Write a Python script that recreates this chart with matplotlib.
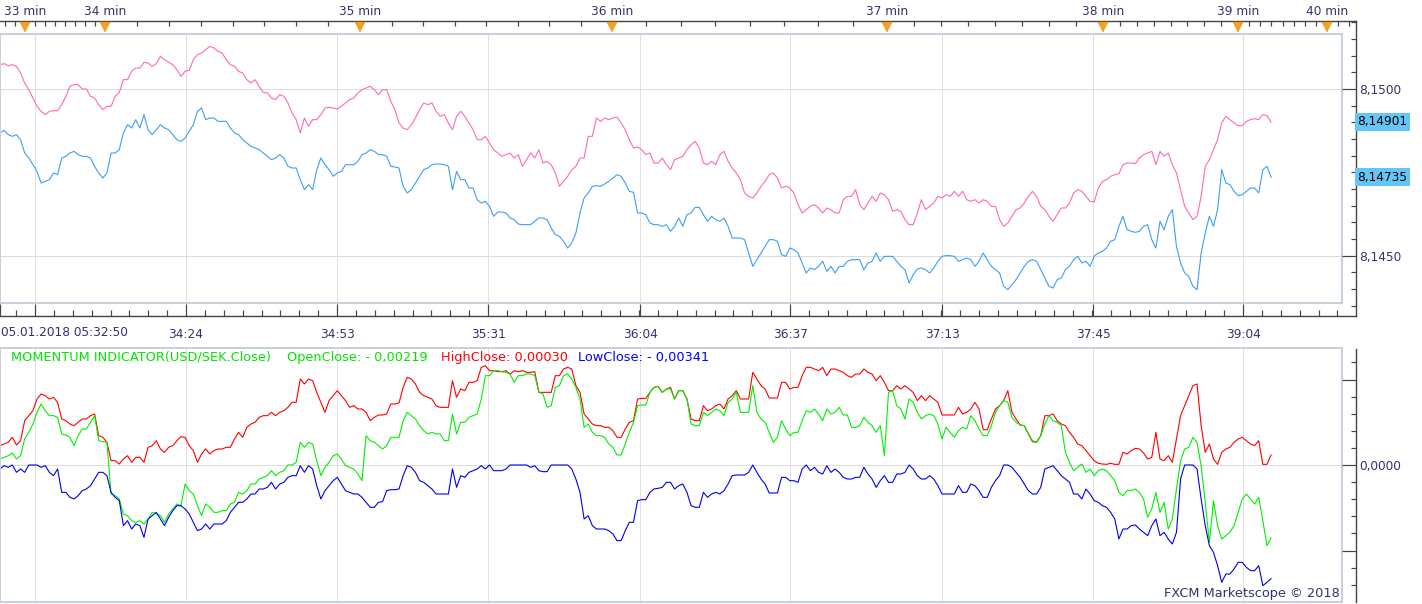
# %%
import numpy as np
import matplotlib

matplotlib.use("Agg")
import matplotlib.pyplot as plt
from matplotlib.patches import Rectangle
from matplotlib.transforms import blended_transform_factory

# %% Data (USD/SEK ticks 05.01.2018)
ask = [
    8.15073, 8.15076, 8.15070, 8.15073, 8.15068, 8.15048, 8.15018, 8.14998, 8.14973, 8.14948,
    8.14933, 8.14923, 8.14933, 8.14935, 8.14935, 8.14953, 8.14978, 8.15008, 8.15013, 8.15013,
    8.15000, 8.15000, 8.14978, 8.14973, 8.14953, 8.14938, 8.14948, 8.14948, 8.14978, 8.14990,
    8.15028, 8.15028, 8.15053, 8.15063, 8.15063, 8.15080, 8.15078, 8.15068, 8.15076, 8.15098,
    8.15088, 8.15080, 8.15073, 8.15058, 8.15038, 8.15053, 8.15056, 8.15088, 8.15103, 8.15108,
    8.15118, 8.15128, 8.15123, 8.15113, 8.15108, 8.15088, 8.15073, 8.15068, 8.15053, 8.15048,
    8.15028, 8.15018, 8.15028, 8.15008, 8.14990, 8.14988, 8.14973, 8.14968, 8.14983, 8.14978,
    8.14958, 8.14928, 8.14908, 8.14868, 8.14913, 8.14888, 8.14908, 8.14908, 8.14923, 8.14943,
    8.14945, 8.14943, 8.14940, 8.14948, 8.14958, 8.14968, 8.14973, 8.14988, 8.14998, 8.15003,
    8.15008, 8.14998, 8.14983, 8.14998, 8.14998, 8.14963, 8.14938, 8.14898, 8.14883, 8.14878,
    8.14893, 8.14913, 8.14938, 8.14958, 8.14953, 8.14958, 8.14933, 8.14918, 8.14923, 8.14898,
    8.14878, 8.14918, 8.14933, 8.14918, 8.14898, 8.14878, 8.14848, 8.14848, 8.14858, 8.14838,
    8.14818, 8.14808, 8.14798, 8.14803, 8.14808, 8.14793, 8.14803, 8.14768, 8.14788, 8.14808,
    8.14793, 8.14818, 8.14778, 8.14783, 8.14773, 8.14748, 8.14708, 8.14723, 8.14738, 8.14758,
    8.14768, 8.14793, 8.14793, 8.14858, 8.14858, 8.14913, 8.14903, 8.14913, 8.14908, 8.14913,
    8.14916, 8.14898, 8.14878, 8.14848, 8.14823, 8.14826, 8.14818, 8.14803, 8.14808, 8.14778,
    8.14778, 8.14793, 8.14773, 8.14758, 8.14788, 8.14793, 8.14798, 8.14818, 8.14833, 8.14843,
    8.14823, 8.14778, 8.14773, 8.14783, 8.14773, 8.14803, 8.14813, 8.14783, 8.14763, 8.14748,
    8.14728, 8.14688, 8.14678, 8.14673, 8.14688, 8.14708, 8.14723, 8.14743, 8.14748, 8.14733,
    8.14703, 8.14708, 8.14703, 8.14688, 8.14653, 8.14628, 8.14638, 8.14648, 8.14653, 8.14643,
    8.14628, 8.14643, 8.14638, 8.14628, 8.14628, 8.14668, 8.14678, 8.14678, 8.14698, 8.14653,
    8.14638, 8.14658, 8.14678, 8.14663, 8.14688, 8.14683, 8.14668, 8.14633, 8.14638, 8.14633,
    8.14608, 8.14593, 8.14593, 8.14628, 8.14668, 8.14638, 8.14648, 8.14658, 8.14678, 8.14673,
    8.14683, 8.14678, 8.14693, 8.14678, 8.14693, 8.14668, 8.14663, 8.14668, 8.14658, 8.14668,
    8.14663, 8.14648, 8.14648, 8.14608, 8.14588, 8.14598, 8.14618, 8.14638, 8.14643, 8.14658,
    8.14678, 8.14693, 8.14678, 8.14648, 8.14638, 8.14618, 8.14603, 8.14623, 8.14643, 8.14643,
    8.14658, 8.14688, 8.14698, 8.14693, 8.14678, 8.14663, 8.14661, 8.14703, 8.14723, 8.14728,
    8.14738, 8.14743, 8.14746, 8.14773, 8.14778, 8.14778, 8.14776, 8.14793, 8.14803, 8.14808,
    8.14813, 8.14773, 8.14813, 8.14798, 8.14808, 8.14773, 8.14748, 8.14698, 8.14648, 8.14628,
    8.14608, 8.14618, 8.14678, 8.14768, 8.14788, 8.14818, 8.14848, 8.14898, 8.14918, 8.14908,
    8.14898, 8.14890, 8.14890, 8.14903, 8.14908, 8.14911, 8.14908, 8.14923, 8.14920, 8.14901,
]

bid = [
    8.14868, 8.14876, 8.14863, 8.14858, 8.14863, 8.14848, 8.14808, 8.14793, 8.14773, 8.14753,
    8.14718, 8.14723, 8.14728, 8.14748, 8.14743, 8.14793, 8.14798, 8.14808, 8.14813, 8.14803,
    8.14798, 8.14798, 8.14793, 8.14768, 8.14748, 8.14733, 8.14748, 8.14808, 8.14808, 8.14818,
    8.14868, 8.14893, 8.14883, 8.14908, 8.14883, 8.14923, 8.14878, 8.14863, 8.14878, 8.14893,
    8.14883, 8.14878, 8.14863, 8.14848, 8.14843, 8.14853, 8.14873, 8.14893, 8.14933, 8.14943,
    8.14908, 8.14913, 8.14913, 8.14903, 8.14903, 8.14903, 8.14883, 8.14868, 8.14863, 8.14848,
    8.14838, 8.14828, 8.14823, 8.14818, 8.14808, 8.14798, 8.14788, 8.14793, 8.14803, 8.14793,
    8.14768, 8.14763, 8.14763, 8.14728, 8.14698, 8.14713, 8.14698, 8.14758, 8.14793, 8.14773,
    8.14758, 8.14738, 8.14748, 8.14753, 8.14773, 8.14773, 8.14773, 8.14783, 8.14803, 8.14808,
    8.14818, 8.14813, 8.14803, 8.14803, 8.14798, 8.14768, 8.14766, 8.14763, 8.14708, 8.14688,
    8.14698, 8.14718, 8.14738, 8.14758, 8.14763, 8.14773, 8.14775, 8.14775, 8.14773, 8.14768,
    8.14698, 8.14753, 8.14728, 8.14728, 8.14703, 8.14703, 8.14668, 8.14658, 8.14663, 8.14648,
    8.14618, 8.14631, 8.14631, 8.14628, 8.14613, 8.14608, 8.14595, 8.14593, 8.14593, 8.14593,
    8.14603, 8.14613, 8.14613, 8.14608, 8.14583, 8.14563, 8.14558, 8.14543, 8.14523, 8.14538,
    8.14568, 8.14628, 8.14673, 8.14688, 8.14708, 8.14710, 8.14708, 8.14715, 8.14723, 8.14733,
    8.14743, 8.14738, 8.14718, 8.14693, 8.14690, 8.14628, 8.14628, 8.14623, 8.14598, 8.14593,
    8.14593, 8.14588, 8.14593, 8.14573, 8.14588, 8.14613, 8.14588, 8.14623, 8.14628, 8.14645,
    8.14645, 8.14623, 8.14603, 8.14618, 8.14608, 8.14603, 8.14613, 8.14588, 8.14553, 8.14553,
    8.14553, 8.14548, 8.14508, 8.14468, 8.14488, 8.14508, 8.14528, 8.14548, 8.14548, 8.14543,
    8.14503, 8.14498, 8.14523, 8.14518, 8.14508, 8.14478, 8.14448, 8.14463, 8.14458, 8.14468,
    8.14483, 8.14453, 8.14468, 8.14448, 8.14468, 8.14468, 8.14483, 8.14488, 8.14488, 8.14488,
    8.14458, 8.14478, 8.14483, 8.14508, 8.14483, 8.14498, 8.14498, 8.14498, 8.14483, 8.14468,
    8.14458, 8.14418, 8.14443, 8.14460, 8.14463, 8.14458, 8.14448, 8.14463, 8.14483, 8.14498,
    8.14500, 8.14500, 8.14498, 8.14483, 8.14488, 8.14493, 8.14488, 8.14468, 8.14483, 8.14508,
    8.14488, 8.14468, 8.14458, 8.14448, 8.14408, 8.14398, 8.14413, 8.14428, 8.14448, 8.14468,
    8.14483, 8.14488, 8.14483, 8.14458, 8.14433, 8.14408, 8.14403, 8.14428, 8.14433, 8.14458,
    8.14468, 8.14488, 8.14498, 8.14478, 8.14483, 8.14468, 8.14498, 8.14508, 8.14513, 8.14523,
    8.14543, 8.14548, 8.14588, 8.14618, 8.14578, 8.14573, 8.14570, 8.14573, 8.14588, 8.14593,
    8.14548, 8.14523, 8.14603, 8.14578, 8.14618, 8.14638, 8.14528, 8.14478, 8.14448, 8.14438,
    8.14408, 8.14398, 8.14508, 8.14568, 8.14618, 8.14588, 8.14638, 8.14758, 8.14718, 8.14713,
    8.14693, 8.14680, 8.14683, 8.14693, 8.14703, 8.14703, 8.14688, 8.14758, 8.14768, 8.14735,
]

high_close = [
    0.00058, 0.00063, 0.00068, 0.00083, 0.00060, 0.00073, 0.00133, 0.00148, 0.00163, 0.00198,
    0.00213, 0.00208, 0.00198, 0.00203, 0.00188, 0.00138, 0.00133, 0.00123, 0.00118, 0.00128,
    0.00138, 0.00138, 0.00148, 0.00153, 0.00088, 0.00083, 0.00068, 0.00013, 0.00013, 0.00003,
    0.00018, 0.00028, 0.00008, 0.00023, 0.00023, 0.00008, 0.00053, 0.00058, 0.00073, 0.00048,
    0.00038, 0.00053, 0.00058, 0.00073, 0.00085, 0.00083, 0.00058, 0.00043, 0.00008, 0.00033,
    0.00048, 0.00033, 0.00043, 0.00048, 0.00048, 0.00053, 0.00053, 0.00078, 0.00098, 0.00083,
    0.00113, 0.00123, 0.00128, 0.00143, 0.00148, 0.00148, 0.00158, 0.00148, 0.00158, 0.00163,
    0.00173, 0.00188, 0.00188, 0.00258, 0.00243, 0.00258, 0.00253, 0.00218, 0.00188, 0.00158,
    0.00193, 0.00208, 0.00223, 0.00208, 0.00193, 0.00173, 0.00178, 0.00168, 0.00168, 0.00158,
    0.00133, 0.00143, 0.00150, 0.00150, 0.00153, 0.00183, 0.00183, 0.00186, 0.00233, 0.00263,
    0.00258, 0.00243, 0.00218, 0.00208, 0.00203, 0.00198, 0.00178, 0.00173, 0.00173, 0.00173,
    0.00253, 0.00203, 0.00228, 0.00223, 0.00248, 0.00248, 0.00253, 0.00293, 0.00298, 0.00283,
    0.00283, 0.00280, 0.00280, 0.00283, 0.00273, 0.00283, 0.00280, 0.00283, 0.00278, 0.00278,
    0.00280, 0.00218, 0.00218, 0.00218, 0.00218, 0.00268, 0.00268, 0.00288, 0.00293, 0.00288,
    0.00238, 0.00218, 0.00153, 0.00138, 0.00123, 0.00118, 0.00118, 0.00113, 0.00113, 0.00103,
    0.00083, 0.00083, 0.00108, 0.00128, 0.00133, 0.00198, 0.00200,
    0.00200, 0.00218, 0.00233, 0.00236, 0.00218, 0.00228, 0.00233, 0.00198, 0.00223, 0.00223,
    0.00198, 0.00138, 0.00133, 0.00133, 0.00178, 0.00163, 0.00168, 0.00178, 0.00183, 0.00168,
    0.00198, 0.00208, 0.00223, 0.00198, 0.00198, 0.00198, 0.00278, 0.00258, 0.00238, 0.00228,
    0.00201, 0.00201, 0.00201, 0.00248, 0.00248, 0.00228, 0.00233, 0.00233, 0.00268, 0.00293,
    0.00293, 0.00288, 0.00283, 0.00293, 0.00268, 0.00288, 0.00288, 0.00283, 0.00278, 0.00268,
    0.00263, 0.00273, 0.00273, 0.00288, 0.00278, 0.00273, 0.00253, 0.00268, 0.00248, 0.00223,
    0.00223, 0.00238, 0.00228, 0.00238, 0.00228, 0.00218, 0.00193, 0.00208, 0.00193, 0.00208,
    0.00198, 0.00188, 0.00150, 0.00150, 0.00150, 0.00150, 0.00173, 0.00153, 0.00158, 0.00168,
    0.00188, 0.00168, 0.00106, 0.00106, 0.00138, 0.00168, 0.00178, 0.00193, 0.00223, 0.00158,
    0.00138, 0.00120, 0.00118, 0.00093, 0.00070, 0.00068, 0.00088, 0.00148, 0.00148, 0.00153,
    0.00133, 0.00123, 0.00118, 0.00098, 0.00083, 0.00063, 0.00058, 0.00043, 0.00028, 0.00013,
    0.00005, 0.00003, 0.00002, 0.00005, 0.00002, 0.00002, 0.00038, 0.00033, 0.00043, 0.00050,
    0.00048, 0.00036, 0.00018, 0.00023, 0.00098, 0.00018, 0.00013, 0.00028, 0.00008, 0.00078,
    0.00148, 0.00178, 0.00208, 0.00238, 0.00243, 0.00118, 0.00038, 0.00063, 0.00018, 0.00002,
    0.00038, 0.00048, 0.00053, 0.00068, 0.00078, 0.00083, 0.00073, 0.00063, 0.00058, 0.00073,
    0.00002, 0.00002, 0.00030,
]

open_close = [
    0.00018, 0.00023, 0.00028, 0.00036, 0.00018, 0.00028, 0.00078, 0.00098, 0.00123, 0.00158,
    0.00183, 0.00163, 0.00148, 0.00148, 0.00143, 0.00093, 0.00090, 0.00083, 0.00058, 0.00088,
    0.00108, 0.00108, 0.00128, 0.00148, 0.00073, 0.00070, 0.00068, -0.00087, -0.00092, -0.00102,
    -0.00147, -0.00152, -0.00167, -0.00172, -0.00167, -0.00177, -0.00162, -0.00142, -0.00147, -0.00152,
    -0.00172, -0.00147, -0.00132, -0.00117, -0.00122, -0.00057, -0.00077, -0.00087, -0.00122, -0.00152,
    -0.00117, -0.00127, -0.00142, -0.00142, -0.00137, -0.00137, -0.00117, -0.00112, -0.00082, -0.00087,
    -0.00077, -0.00057, -0.00057, -0.00042, -0.00037, -0.00032, -0.00017, -0.00032, -0.00022, -0.00017,
    0.00000, 0.00000, 0.00008, 0.00068, 0.00053, 0.00068, 0.00063, 0.00013, -0.00032, -0.00007,
    0.00008, 0.00028, 0.00033, 0.00018, -0.00002, -0.00007, -0.00012, -0.00027, -0.00047, 0.00088,
    0.00073, 0.00068, 0.00058, 0.00048, 0.00058, 0.00083, 0.00083, 0.00083, 0.00133, 0.00158,
    0.00148, 0.00138, 0.00118, 0.00103, 0.00093, 0.00098, 0.00093, 0.00093, 0.00073, 0.00073,
    0.00153, 0.00093, 0.00128, 0.00128, 0.00143, 0.00148, 0.00153, 0.00198, 0.00268, 0.00268,
    0.00283, 0.00283, 0.00280, 0.00278, 0.00273, 0.00248, 0.00268, 0.00268, 0.00273, 0.00273,
    0.00268, 0.00218, 0.00213, 0.00173, 0.00178, 0.00233, 0.00238, 0.00268, 0.00273, 0.00258,
    0.00233, 0.00198, 0.00113, 0.00123, 0.00098, 0.00088, 0.00088, 0.00083, 0.00063, 0.00053,
    0.00030, 0.00030, 0.00063, 0.00098, 0.00128, 0.00178, 0.00180,
    0.00180, 0.00218, 0.00233, 0.00236, 0.00218, 0.00228, 0.00228, 0.00198, 0.00223, 0.00223,
    0.00198, 0.00123, 0.00118, 0.00118, 0.00158, 0.00148, 0.00158, 0.00168, 0.00163, 0.00148,
    0.00188, 0.00198, 0.00218, 0.00158, 0.00158, 0.00158, 0.00238, 0.00158, 0.00138, 0.00128,
    0.00098, 0.00068, 0.00083, 0.00133, 0.00108, 0.00088, 0.00098, 0.00098, 0.00133, 0.00163,
    0.00158, 0.00168, 0.00153, 0.00133, 0.00168, 0.00153, 0.00158, 0.00173, 0.00150, 0.00150,
    0.00113, 0.00113, 0.00118, 0.00143, 0.00128, 0.00118, 0.00098, 0.00118, 0.00028, 0.00218,
    0.00223, 0.00178, 0.00168, 0.00138, 0.00198, 0.00188, 0.00158, 0.00138, 0.00148, 0.00153,
    0.00148, 0.00123, 0.00078, 0.00113, 0.00098, 0.00083, 0.00103, 0.00113, 0.00108, 0.00148,
    0.00133, 0.00108, 0.00088, 0.00088, 0.00118, 0.00158, 0.00178, 0.00193, 0.00188, 0.00143,
    0.00128, 0.00120, 0.00118, 0.00093, 0.00073, 0.00068, 0.00088, 0.00123, 0.00148, 0.00133,
    0.00128, 0.00118, 0.00038, 0.00008, -0.00017, -0.00007, 0.00003, -0.00022, -0.00012, -0.00032,
    -0.00017, -0.00012, -0.00017, -0.00032, -0.00047, -0.00082, -0.00092, -0.00077, -0.00077, -0.00072,
    -0.00082, -0.00102, -0.00157, -0.00132, -0.00082, -0.00142, -0.00112, -0.00192, -0.00162, -0.00072,
    0.00013, 0.00048, 0.00053, 0.00083, 0.00068, -0.00002, -0.00112, -0.00232, -0.00107, -0.00182,
    -0.00222, -0.00212, -0.00202, -0.00182, -0.00142, -0.00102, -0.00087, -0.00102, -0.00117, -0.00097,
    -0.00167, -0.00242, -0.00219,
]

low_close = [
    -0.00012, -0.00002, -0.00007, 0.00000, -0.00022, -0.00012, -0.00022, 0.00000, 0.00000, 0.00000,
    -0.00007, -0.00002, -0.00022, -0.00032, -0.00012, -0.00082, -0.00082, -0.00097, -0.00102, -0.00092,
    -0.00077, -0.00072, -0.00062, -0.00042, -0.00022, -0.00022, -0.00032, -0.00082, -0.00097, -0.00107,
    -0.00182, -0.00167, -0.00192, -0.00177, -0.00182, -0.00217, -0.00162, -0.00152, -0.00142, -0.00162,
    -0.00182, -0.00157, -0.00137, -0.00122, -0.00122, -0.00132, -0.00147, -0.00172, -0.00197, -0.00192,
    -0.00177, -0.00192, -0.00177, -0.00177, -0.00177, -0.00167, -0.00142, -0.00127, -0.00112, -0.00112,
    -0.00102, -0.00087, -0.00087, -0.00072, -0.00072, -0.00067, -0.00052, -0.00072, -0.00057, -0.00052,
    -0.00037, -0.00032, -0.00032, -0.00002, -0.00022, -0.00002, -0.00012, -0.00062, -0.00102, -0.00077,
    -0.00062, -0.00047, -0.00037, -0.00057, -0.00077, -0.00082, -0.00087, -0.00087, -0.00097, -0.00112,
    -0.00127, -0.00127, -0.00112, -0.00110, -0.00077, -0.00074, -0.00074, -0.00072, -0.00032, -0.00002,
    -0.00007, -0.00022, -0.00047, -0.00052, -0.00062, -0.00072, -0.00087, -0.00087, -0.00087, -0.00087,
    -0.00012, -0.00067, -0.00032, -0.00037, -0.00022, -0.00017, -0.00012, -0.00002, -0.00012, 0.00000,
    -0.00017, -0.00017, -0.00017, -0.00012, 0.00000, 0.00000, 0.00000, 0.00000, 0.00000, -0.00007,
    -0.00002, -0.00017, -0.00020, -0.00020, 0.00000, 0.00000, 0.00000, 0.00000, 0.00000, -0.00012,
    -0.00042, -0.00082, -0.00162, -0.00152, -0.00182, -0.00192, -0.00192, -0.00192, -0.00197, -0.00207,
    -0.00227, -0.00227, -0.00197, -0.00172, -0.00172, -0.00107, -0.00104,
    -0.00104, -0.00082, -0.00072, -0.00070, -0.00067, -0.00052, -0.00052, -0.00072, -0.00062, -0.00057,
    -0.00082, -0.00122, -0.00127, -0.00127, -0.00082, -0.00097, -0.00087, -0.00082, -0.00087, -0.00077,
    -0.00057, -0.00032, -0.00030, -0.00030, -0.00030, -0.00022, 0.00000, -0.00022, -0.00042, -0.00057,
    -0.00084, -0.00084, -0.00084, -0.00037, -0.00037, -0.00047, -0.00047, -0.00052, -0.00012, 0.00000,
    -0.00017, -0.00007, -0.00022, -0.00027, -0.00002, -0.00022, -0.00012, -0.00022, -0.00037, -0.00042,
    -0.00042, -0.00037, -0.00037, -0.00007, -0.00027, -0.00042, -0.00067, -0.00047, -0.00032, -0.00052,
    -0.00052, -0.00027, -0.00027, -0.00022, 0.00000, -0.00012, -0.00032, -0.00042, -0.00042, -0.00032,
    -0.00042, -0.00062, -0.00087, -0.00087, -0.00087, -0.00087, -0.00062, -0.00082, -0.00082, -0.00057,
    -0.00062, -0.00077, -0.00097, -0.00097, -0.00067, -0.00047, -0.00032, 0.00000, 0.00000, -0.00007,
    -0.00022, -0.00037, -0.00057, -0.00077, -0.00087, -0.00087, -0.00067, -0.00012, -0.00007, -0.00002,
    -0.00017, -0.00032, -0.00042, -0.00052, -0.00087, -0.00087, -0.00102, -0.00072, -0.00087, -0.00107,
    -0.00112, -0.00122, -0.00127, -0.00142, -0.00162, -0.00222, -0.00192, -0.00192, -0.00182, -0.00180,
    -0.00192, -0.00202, -0.00212, -0.00182, -0.00162, -0.00212, -0.00202, -0.00222, -0.00237, -0.00202,
    -0.00042, 0.00000, 0.00000, 0.00000, -0.00012, -0.00102, -0.00182, -0.00242, -0.00262, -0.00302,
    -0.00352, -0.00327, -0.00327, -0.00312, -0.00292, -0.00292, -0.00307, -0.00317, -0.00317, -0.00302,
    -0.00362, -0.00352, -0.00341,
]

minute_labels = ["33 min", "34 min", "35 min", "36 min", "37 min", "38 min", "39 min", "40 min"]
date_labels = ["34:24", "34:53", "35:31", "36:04", "36:37", "37:13", "37:45", "39:04"]
price_labels = ["8,1450", "8,1500"]
price_ticks = [8.1450, 8.1500]
last_ask = 8.14901
last_bid = 8.14735

# %% Layout (pixels of a 1422 x 604 canvas, x axis in chart ticks = pixels)
W, H = 1422, 604
PT = 0.72  # points per pixel at dpi 100
SAMPLE_STEP = 4.1135
minute_pos = [25, 105, 360, 612, 887, 1103, 1238, 1327]
date_pos = [186, 337, 488, 640, 790, 942, 1093, 1243]
grid_x = [35] + date_pos

NAVY = "#33336b"
AXIS = "#444444"
BORDER = "#c8d0dc"
GRID = "#e0e0e0"

plt.rcParams["font.family"] = "DejaVu Sans"
plt.rcParams["font.size"] = 8.7

fig = plt.figure(figsize=(W / 100, H / 100), dpi=100)


def px_axes(x0, y0, x1, y1):
    return fig.add_axes([x0 / W, 1 - y1 / H, (x1 - x0) / W, (y1 - y0) / H])


def xs(series):
    return np.arange(len(series)) * SAMPLE_STEP


def panel(ax, ylim):
    ax.set_xlim(0, 1342)
    ax.set_ylim(*ylim)
    for s in ax.spines.values():
        s.set_visible(False)
    ax.set_xticks([])
    ax.set_yticks([])
    for x in grid_x:
        ax.axvline(x, color=GRID, lw=1 * PT, zorder=0)
    ax.add_patch(
        Rectangle((0, 0), 1, 1, transform=ax.transAxes, fill=False,
                  ec=BORDER, lw=2 * PT, clip_on=False, zorder=5)
    )


# %% Top price panel
ax1 = px_axes(0, 34, 1342, 303)
panel(ax1, (8.14358, 8.15165))
for p in price_ticks:
    ax1.axhline(p, color="#dcdcdc", lw=1 * PT, zorder=0)
ax1.plot(xs(ask), ask, color="#ff6ab5", lw=0.8)
ax1.plot(xs(bid), bid, color="#3d9ef5", lw=0.8)

# frame with right price axis, bottom date axis and top minute axis
fr1 = px_axes(0, 21, 1356, 316)
fr1.patch.set_visible(False)
fr1.set_xlim(0, 1356)
fr1.set_ylim(8.14319, 8.15204)
fr1.spines["left"].set_visible(False)
for k in ("top", "bottom", "right"):
    fr1.spines[k].set_color(AXIS)
    fr1.spines[k].set_linewidth(1.4 * PT)

fr1.yaxis.tick_right()
fr1.set_yticks(price_ticks)
fr1.set_yticklabels(price_labels)
fr1.set_yticks(np.arange(8.1435, 8.15205, 0.0005), minor=True)
fr1.tick_params(axis="y", which="both", direction="in", colors=AXIS,
                labelcolor=NAVY, pad=3 * PT, width=1.2 * PT)
fr1.tick_params(axis="y", which="major", length=14 * PT)
fr1.tick_params(axis="y", which="minor", length=5 * PT)

fr1.set_xticks([0] + grid_x)
fr1.set_xticklabels(["", ""] + date_labels)
fr1.set_xticks(np.arange(35 - 151 / 8, 1356, 151 / 8), minor=True)
fr1.tick_params(axis="x", which="both", direction="in", colors=AXIS,
                labelcolor=NAVY, pad=8.5, width=1.2 * PT)
fr1.tick_params(axis="x", which="major", length=12 * PT)
fr1.tick_params(axis="x", which="minor", length=6 * PT)
fig.text(1 / W, 1 - 333 / H, "05.01.2018 05:32:50", color=NAVY, va="center", ha="left")

for val in (last_ask, last_bid):
    fr1.text(1 + 1.5 / 1356, val, f"{val:.5f}".replace(".", ","),
             transform=blended_transform_factory(fr1.transAxes, fr1.transData),
             ha="left", va="center", color="black",
             bbox=dict(boxstyle="square,pad=0.22", fc="#62c6f6", ec="none"))

top = fr1.twiny()
top.set_xlim(0, 1356)
for s in top.spines.values():
    s.set_visible(False)
minute_minor = []
for a, b in zip(minute_pos[:-1], minute_pos[1:]):
    minute_minor += list(np.linspace(a, b, 9)[1:-1])
minute_minor += [5, 15, 1338, 1349]
top.set_xticks(minute_pos)
top.set_xticklabels(minute_labels)
top.set_xticks(minute_minor, minor=True)
top.tick_params(axis="x", which="both", direction="in", colors=AXIS,
                labelcolor=NAVY, pad=2.2, width=1.2 * PT)
top.tick_params(axis="x", which="major", length=0)
top.tick_params(axis="x", which="minor", length=5 * PT)
top.plot(minute_pos, [1 - 6 / 295] * len(minute_pos), ls="none", marker="v",
         ms=10 * PT, color="#f5a21e", mec="#e08c00", mew=0.3,
         transform=blended_transform_factory(top.transData, top.transAxes),
         clip_on=False, zorder=6)

# %% Bottom momentum panel
ax2 = px_axes(0, 348, 1342, 602)
panel(ax2, (-0.00411, 0.00351))
ax2.axhline(0, color="#dcdcdc", lw=1 * PT, zorder=0)
ax2.plot(xs(high_close), high_close, color="#ff0000", lw=0.8)
ax2.plot(xs(open_close), open_close, color="#00f000", lw=0.8)
ax2.plot(xs(low_close), low_close, color="#0000ee", lw=0.8)

fr2 = px_axes(0, 349, 1356, 602)
fr2.patch.set_visible(False)
fr2.set_xlim(0, 1356)
fr2.set_ylim(-0.00411, 0.00348)
for k in ("top", "bottom", "left"):
    fr2.spines[k].set_visible(False)
fr2.spines["right"].set_color(AXIS)
fr2.spines["right"].set_linewidth(1.4 * PT)
fr2.set_xticks([])
mom_step = 0.000513
fr2.yaxis.tick_right()
fr2.set_yticks([-5 * mom_step, 0, 5 * mom_step])
fr2.set_yticklabels(["", "0,0000", ""])
fr2.set_yticks([k * mom_step for k in range(-7, 7)], minor=True)
fr2.tick_params(axis="y", which="both", direction="in", colors=AXIS,
                labelcolor=NAVY, pad=3 * PT, width=1.2 * PT)
fr2.tick_params(axis="y", which="major", length=14 * PT)
fr2.tick_params(axis="y", which="minor", length=5 * PT)

# indicator caption
cap_y = 1 - 357 / H
fig.text(11 / W, cap_y, "MOMENTUM INDICATOR(USD/SEK.Close)", color="#00e600", va="center", fontsize=9.3)
fig.text(287 / W, cap_y, "OpenClose: - 0,00219", color="#00e600", va="center", fontsize=9.3)
fig.text(441 / W, cap_y, "HighClose: 0,00030", color="#ff0000", va="center", fontsize=9.3)
fig.text(578 / W, cap_y, "LowClose: - 0,00341", color="#0000ff", va="center", fontsize=9.3)
fig.text(1340 / W, 1 - 594 / H, "FXCM Marketscope \u00a9 2018", color=NAVY,
         ha="right", va="center", fontsize=9.3)

fig.savefig("out.png", dpi=100)
